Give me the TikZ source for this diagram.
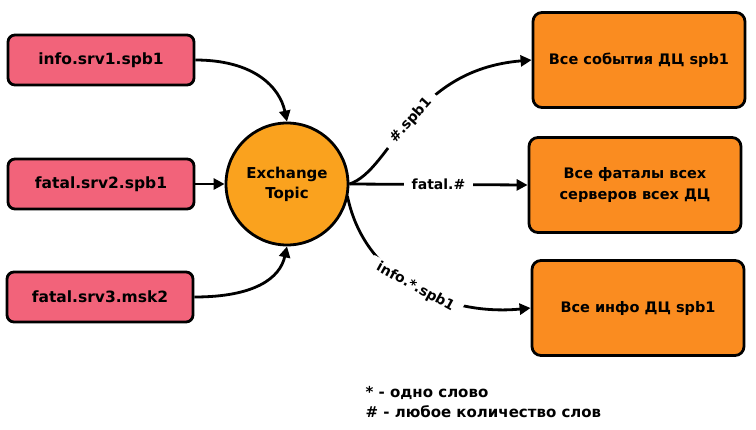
\documentclass[tikz,border=0pt]{standalone}
\usepackage{fontspec}
\setmainfont{DejaVu Sans}
\usetikzlibrary{arrows.meta}
\definecolor{pinkbox}{RGB}{242,99,122}
\definecolor{circorange}{RGB}{250,162,30}
\definecolor{boxorange}{RGB}{250,140,32}
\tikzset{
  srcbox/.style={draw=black, line width=2.8pt, rounded corners=7pt, fill=pinkbox, minimum width=186pt, minimum height=50pt, font=\fontsize{15.5}{18}\selectfont\bfseries},
  dstbox/.style={draw=black, line width=2.8pt, rounded corners=9pt, fill=boxorange, minimum width=212pt, minimum height=95pt, font=\fontsize{14.5}{21}\selectfont\bfseries, align=center},
  conn/.style={line width=2.8pt, -{Triangle[length=11pt,width=11pt]}},
  lbl/.style={fill=white, font=\fontsize{14}{16}\selectfont\bfseries, inner xsep=8pt, inner ysep=2pt},
}
\begin{document}
\begin{tikzpicture}[x=1pt,y=-1pt]
\useasboundingbox (0,0) rectangle (756,429);
\node[srcbox] (s1) at (101,60) {info.srv1.spb1};
\node[srcbox] (s2) at (101,184) {fatal.srv2.spb1};
\node[srcbox] (s3) at (100,297) {fatal.srv3.msk2};
\node[circle, draw=black, line width=2.8pt, fill=circorange, minimum size=122pt, align=center, font=\fontsize{15}{20}\selectfont\bfseries] (ex) at (287,184) {Exchange\\Topic};
\node[dstbox] (d1) at (639,60) {Все события ДЦ spb1};
\node[dstbox] (d2) at (635,185) {Все фаталы всех\\серверов всех ДЦ};
\node[dstbox] (d3) at (638,308) {Все инфо ДЦ spb1};
\draw[conn] (s1.east) .. controls (255,60) and (280,88) .. (ex.north);
\draw[conn] (s2.east) -- (ex.west);
\draw[conn] (s3.east) .. controls (255,297) and (280,278) .. (ex.south);
\draw[conn] (ex.east) .. controls (392,170) and (410,70) .. (d1.west) node[lbl, pos=0.5, sloped] {\#.spb1};
\draw[conn] (ex.east) -- (d2.west) node[lbl, midway] {fatal.\#};
\draw[conn] (ex.east) ++(-2,12) coordinate (e3) .. controls (365,282) and (450,316) .. (d3.west) node[lbl, pos=0.5, sloped] {info.*.spb1};
\node[anchor=west, font=\fontsize{15}{20}\selectfont\bfseries, align=left] (legend) at (362,402) {* - одно слово\\\# - любое количество слов};
\end{tikzpicture}
\end{document}
